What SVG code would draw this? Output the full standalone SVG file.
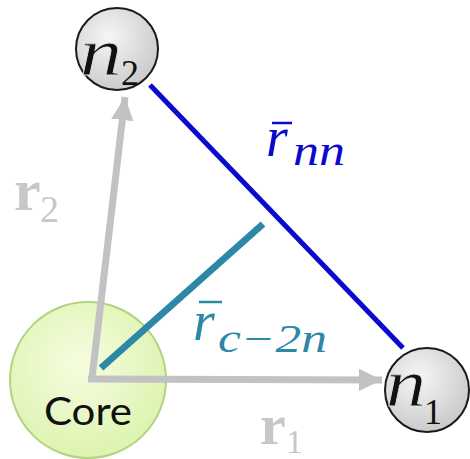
<svg xmlns="http://www.w3.org/2000/svg" width="470" height="459" viewBox="0 0 470 459">
<defs>
<radialGradient id="gNode" cx="0.4" cy="0.35" r="0.7">
<stop offset="0" stop-color="#f6f6f6"/>
<stop offset="1" stop-color="#c8c8c8"/>
</radialGradient>
<radialGradient id="gCore" cx="0.45" cy="0.4" r="0.7">
<stop offset="0" stop-color="#f6fde0"/>
<stop offset="1" stop-color="#d9f2a8"/>
</radialGradient>
<marker id="ah" markerWidth="3.4" markerHeight="3.4" refX="3.3" refY="1.6" orient="auto" markerUnits="strokeWidth">
<path d="M0,0 L3.3,1.6 L0,3.2 Z" fill="#c2c2c2"/>
</marker>
<style>
.node{stroke:#1a1a1a;stroke-width:2}
.math{font-family:"Liberation Serif",serif;font-style:italic}
.thin{stroke:#dedede;stroke-width:0.8}
.sub{font-family:"Liberation Serif",serif}
.vec{font-family:"Liberation Serif",serif;font-weight:bold;fill:#c8c8c8}
</style>
</defs>
<g id="core">
<circle cx="88" cy="380" r="78" fill="url(#gCore)" stroke="#b2d47e" stroke-width="2"/>
<text x="44" y="425" textLength="88" lengthAdjust="spacingAndGlyphs" font-family="Lato,'Open Sans',sans-serif" font-size="38" fill="#111">Core</text>
</g>
<g id="connectors">
<line x1="92" y1="378" x2="125" y2="97" stroke="#c2c2c2" stroke-width="7" marker-end="url(#ah)"/>
<line x1="88" y1="379" x2="382" y2="380" stroke="#c2c2c2" stroke-width="7" marker-end="url(#ah)"/>
<line x1="150" y1="85" x2="403" y2="348" stroke="#0a0acc" stroke-width="5"/>
<line x1="101" y1="368" x2="263" y2="224" stroke="#2c88a6" stroke-width="7"/>
</g>
<g id="n2">
<circle cx="117" cy="49" r="41" fill="url(#gNode)" class="node"/>
<text x="80" y="75" class="math thin" font-size="68" textLength="42" lengthAdjust="spacingAndGlyphs" fill="#111">n</text>
<text x="121" y="85" class="sub" font-size="36" fill="#111">2</text>
</g>
<g id="n1">
<circle cx="427" cy="390" r="42" fill="url(#gNode)" class="node"/>
<text x="386" y="406" class="math thin" font-size="68" textLength="40" lengthAdjust="spacingAndGlyphs" fill="#111">n</text>
<text x="424" y="424" class="sub" font-size="36" fill="#111">1</text>
</g>
<g id="labels">
<g fill="#0a0acc">
<line x1="272" y1="123" x2="292" y2="123" stroke="#0a0acc" stroke-width="2.5"/>
<text x="266" y="156" class="math" font-size="56">r</text>
<text x="293" y="165" class="math" font-size="44" textLength="52" lengthAdjust="spacingAndGlyphs">nn</text>
</g>
<g fill="#2c88a6">
<line x1="199" y1="302" x2="222" y2="302" stroke="#2c88a6" stroke-width="2.5"/>
<text x="193" y="340" class="math" font-size="56">r</text>
<text x="218" y="352" class="math" font-size="40" textLength="109" lengthAdjust="spacingAndGlyphs">c−2n</text>
</g>
<text x="14" y="210" class="vec" font-size="60">r</text>
<text x="40" y="222" class="sub" font-size="38" fill="#c8c8c8">2</text>
<text x="260" y="444" class="vec" font-size="58">r</text>
<text x="286" y="453" class="sub" font-size="34" fill="#c8c8c8">1</text>
</g>
</svg>
